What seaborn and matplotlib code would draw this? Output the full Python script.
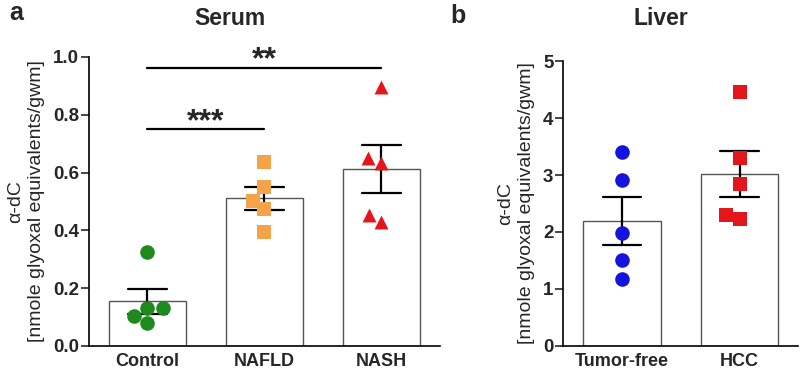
import pandas as pd
import numpy as np
import matplotlib
matplotlib.use("Agg")
import matplotlib.pyplot as plt
import seaborn as sns

# ---- data ----
serum_groups = ["Control", "NAFLD", "NASH"]
control_vals = [0.326, 0.130, 0.078, 0.104, 0.133]
nafld_vals = [0.636, 0.551, 0.503, 0.473, 0.393]
nash_vals = [0.897, 0.650, 0.634, 0.453, 0.430]

liver_groups = ["Tumor-free", "HCC"]
tumorfree_vals = [3.41, 2.92, 1.99, 1.50, 1.18]
hcc_vals = [4.45, 3.29, 2.85, 2.29, 2.22]

serum_yticks = [0.0, 0.2, 0.4, 0.6, 0.8, 1.0]
liver_yticks = [0, 1, 2, 3, 4, 5]

sig_pairs = [("Control", "NAFLD", 0.75, "***"), ("Control", "NASH", 0.963, "**")]

serum_df = pd.DataFrame({
    "group": ["Control"] * 5 + ["NAFLD"] * 5 + ["NASH"] * 5,
    "value": control_vals + nafld_vals + nash_vals,
})
liver_df = pd.DataFrame({
    "group": ["Tumor-free"] * 5 + ["HCC"] * 5,
    "value": tumorfree_vals + hcc_vals,
})

serum_style = {"Control": ("#1e8a1e", "o"), "NAFLD": ("#f4a348", "s"), "NASH": ("#e8141b", "^")}
liver_style = {"Tumor-free": ("#1414dc", "o"), "HCC": ("#e3161c", "s")}

sns.set_style("ticks")
plt.rcParams["font.family"] = ["Liberation Sans", "DejaVu Sans"]

fig = plt.figure(figsize=(8, 3.7), dpi=100)
ax1 = fig.add_axes([0.111, 0.065, 0.439, 0.781])
ax2 = fig.add_axes([0.704, 0.065, 0.294, 0.770])


def draw_panel(ax, df, order, style, yticks, fmt):
    sns.barplot(data=df, x="group", y="value", order=order, ax=ax,
                color="white", edgecolor="#555555", linewidth=1.0, width=0.66,
                errorbar="se", capsize=0.33,
                err_kws={"color": "black", "linewidth": 1.6})
    for g in order:
        col, mk = style[g]
        sub = df[df["group"] == g]
        sns.swarmplot(data=sub, x="group", y="value", order=order, ax=ax,
                      color=col, marker=mk, size=10.5 if mk == "o" else 10,
                      linewidth=0, zorder=4)
    ax.set_xlim(-0.5, len(order) - 0.5)
    ax.set_ylim(yticks[0], yticks[-1])
    ax.set_yticks(yticks)
    ax.set_yticklabels([fmt.format(t) for t in yticks], fontsize=13.5, fontweight="bold")
    ax.set_xticklabels(order, fontsize=13, fontweight="bold")
    ax.tick_params(axis="x", length=0, pad=5)
    ax.tick_params(axis="y", length=5.5, width=1.2, pad=1.5)
    ax.set_xlabel("")
    ax.set_ylabel("α-dC\n[nmole glyoxal equivalents/gwm]", fontsize=14,
                  labelpad=6, linespacing=1.25)
    sns.despine(ax=ax)
    for s in ["left", "bottom"]:
        ax.spines[s].set_linewidth(1.2)
        ax.spines[s].set_color("black")


draw_panel(ax1, serum_df, serum_groups, serum_style, serum_yticks, "{:.1f}")
draw_panel(ax2, liver_df, liver_groups, liver_style, liver_yticks, "{:d}")

for a, b, y, stars in sig_pairs:
    x0, x1 = serum_groups.index(a), serum_groups.index(b)
    ax1.plot([x0, x1], [y, y], color="black", linewidth=1.6, clip_on=False)
    ax1.text((x0 + x1) / 2, y + 0.025, stars, ha="center", va="center",
             fontsize=23, fontweight="bold", clip_on=False)

fig.text(0.288, 0.95, "Serum", fontsize=16.5, fontweight="bold", ha="center", va="center")
fig.text(0.826, 0.95, "Liver", fontsize=16.5, fontweight="bold", ha="center", va="center")
fig.text(0.012, 0.965, "a", fontsize=18, fontweight="bold", va="center")
fig.text(0.563, 0.958, "b", fontsize=18, fontweight="bold", va="center")

fig.savefig("out.png", dpi=100)
